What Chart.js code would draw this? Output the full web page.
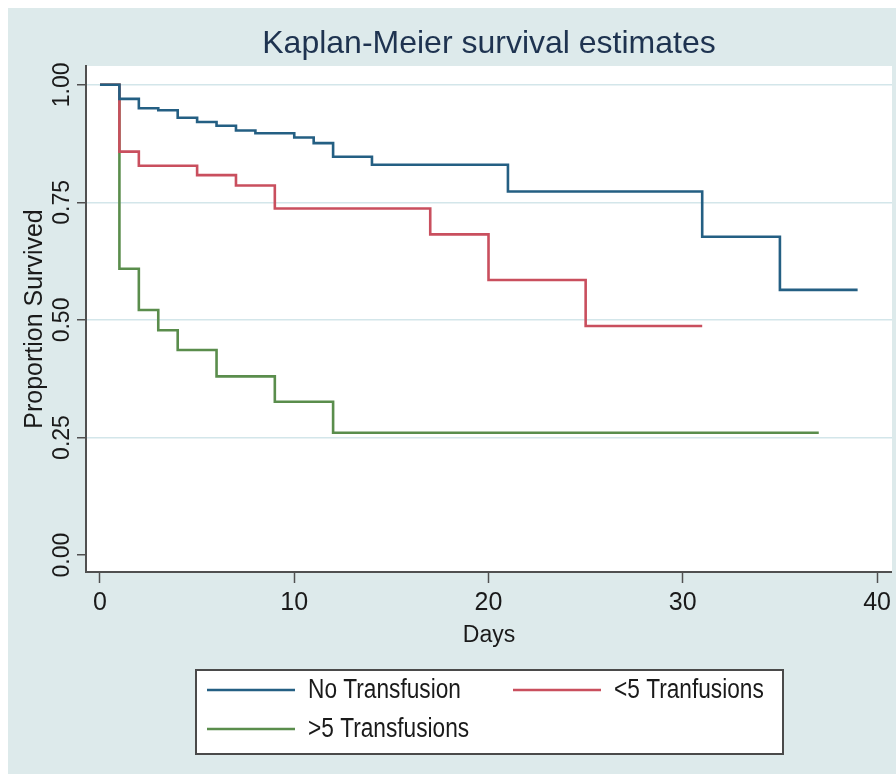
<!DOCTYPE html>
<html>
<head>
<meta charset="utf-8">
<script src="https://cdn.jsdelivr.net/npm/chart.js@4.4.1/dist/chart.umd.min.js"></script>
<style>
  html, body { margin: 0; padding: 0; background: #ffffff; }
  #wrap { position: absolute; left: 8px; top: 8px; }
</style>
</head>
<body>
<div id="wrap"><canvas id="km" width="888" height="766"></canvas></div>
<script>
// survival estimates (time in days, proportion surviving after that time)
const noTransDays = [0, 1, 2, 3, 4, 5, 6, 7, 8, 10, 11, 12, 14, 21, 31, 35, 39];
const noTransSurv = [1.0, 0.970, 0.950, 0.946, 0.930, 0.921, 0.913, 0.903, 0.897, 0.888, 0.876, 0.847, 0.830, 0.773, 0.677, 0.564, 0.564];

const lowDays = [0, 1, 2, 5, 7, 9, 17, 20, 25, 31];
const lowSurv = [1.0, 0.858, 0.828, 0.808, 0.786, 0.737, 0.682, 0.585, 0.487, 0.487];

const highDays = [0, 1, 2, 3, 4, 6, 9, 12, 37];
const highSurv = [1.0, 0.609, 0.521, 0.478, 0.436, 0.380, 0.326, 0.260, 0.260];

const groupLabels = ["No Transfusion", "<5 Tranfusions", ">5 Transfusions"];
const xTickValues = [0, 10, 20, 30, 40];
const yTickValues = [0, 0.25, 0.5, 0.75, 1.0];

const titleText = "Kaplan-Meier survival estimates";
const xTitle = "Days";
const yTitle = "Proportion Survived";

const colors = ["#245f83", "#c94f5e", "#5a8d4c"];
const panelBg = "#ddeaeb";
const gridColor = "#d3e6ea";
const axisColor = "#505050";
const textColor = "#1a1a1a";
const regular = "'Liberation Sans', Arial, sans-serif";

function toPoints(days, surv) {
    return days.map((d, i) => ({ x: d, y: surv[i] }));
}

const backgroundPlugin = {
    id: "panelBackground",
    beforeDraw(chart) {
        const { ctx, chartArea: a } = chart;
        ctx.save();
        ctx.fillStyle = panelBg;
        ctx.fillRect(0, 0, chart.width, chart.height);
        ctx.fillStyle = "#ffffff";
        ctx.fillRect(a.left, a.top, a.right - a.left, a.bottom - a.top);
        ctx.restore();
    },
};

const titlePlugin = {
    id: "centeredTitle",
    afterDraw(chart) {
        const { ctx, chartArea: a } = chart;
        ctx.save();
        ctx.font = "32px " + regular;
        ctx.fillStyle = "#1e3350";
        ctx.textAlign = "center";
        ctx.textBaseline = "alphabetic";
        ctx.fillText(titleText, (a.left + a.right) / 2, 45);
        ctx.restore();
    },
};

// boxed legend, two columns like the original (text a bit condensed)
const legendPlugin = {
    id: "boxedLegend",
    afterDraw(chart) {
        const { ctx } = chart;
        const box = { left: 188, top: 662, right: 775, bottom: 746 };
        const slots = [
            { x: 199, y: 682 },
            { x: 505, y: 682 },
            { x: 199, y: 721 },
        ];
        const squeeze = 0.84;
        ctx.save();
        ctx.fillStyle = "#ffffff";
        ctx.fillRect(box.left, box.top, box.right - box.left, box.bottom - box.top);
        ctx.strokeStyle = "#4a4a4a";
        ctx.lineWidth = 2;
        ctx.strokeRect(box.left, box.top, box.right - box.left, box.bottom - box.top);
        chart.data.datasets.forEach((ds, i) => {
            const s = slots[i];
            ctx.strokeStyle = ds.borderColor;
            ctx.lineWidth = 2.5;
            ctx.beginPath();
            ctx.moveTo(s.x, s.y);
            ctx.lineTo(s.x + 88, s.y);
            ctx.stroke();
            ctx.save();
            ctx.translate(s.x + 101, s.y + 1);
            ctx.scale(squeeze, 1);
            ctx.font = "27px " + regular;
            ctx.textBaseline = "middle";
            ctx.textAlign = "left";
            ctx.fillStyle = textColor;
            ctx.fillText(ds.label, 0, 0);
            ctx.restore();
        });
        ctx.restore();
    },
};

const datasets = [
    toPoints(noTransDays, noTransSurv),
    toPoints(lowDays, lowSurv),
    toPoints(highDays, highSurv),
].map((pts, i) => ({
    label: groupLabels[i],
    data: pts,
    borderColor: colors[i],
    backgroundColor: colors[i],
    borderWidth: 2.6,
    stepped: true,
    pointRadius: 0,
    fill: false,
}));

new Chart(document.getElementById("km"), {
    type: "line",
    data: { datasets },
    options: {
        responsive: false,
        animation: false,
        devicePixelRatio: 1,
        layout: { padding: { top: 58, right: 3, bottom: 122, left: 0 } },
        plugins: {
            legend: { display: false },
            tooltip: { enabled: false },
        },
        scales: {
            x: {
                type: "linear",
                min: -0.72,
                max: 40.77,
                afterBuildTicks: (scale) => { scale.ticks = xTickValues.map((v) => ({ value: v })); },
                afterFit: (scale) => { scale.height = 80; },
                grid: { drawOnChartArea: false, tickLength: 11, tickColor: axisColor, tickWidth: 1.5 },
                border: { display: true, color: axisColor, width: 2 },
                ticks: {
                    color: textColor,
                    padding: 5,
                    font: { family: regular, size: 25 },
                    maxRotation: 0,
                },
                title: {
                    display: true,
                    text: xTitle,
                    color: textColor,
                    font: { family: regular, size: 23 },
                    padding: { top: 0, bottom: 3 },
                },
            },
            y: {
                type: "linear",
                min: -0.036,
                max: 1.040,
                afterBuildTicks: (scale) => { scale.ticks = yTickValues.map((v) => ({ value: v })); },
                afterFit: (scale) => { scale.width = 78; },
                grid: {
                    color: (c) => (c.tick && c.tick.value === 0 ? "rgba(0,0,0,0)" : gridColor),
                    lineWidth: 1.5,
                    tickLength: 9,
                    tickColor: axisColor,
                    tickWidth: 1.5,
                },
                border: { display: true, color: axisColor, width: 2 },
                ticks: {
                    color: textColor,
                    font: { family: regular, size: 23 },
                    minRotation: 90,
                    maxRotation: 90,
                    crossAlign: "center",
                    padding: -8,
                    callback: (v) => Number(v).toFixed(2),
                },
                title: {
                    display: true,
                    text: yTitle,
                    color: textColor,
                    font: { family: regular, size: 25 },
                    padding: { top: 12, bottom: 0 },
                },
            },
        },
    },
    plugins: [backgroundPlugin, titlePlugin, legendPlugin],
});
</script>
</body>
</html>
